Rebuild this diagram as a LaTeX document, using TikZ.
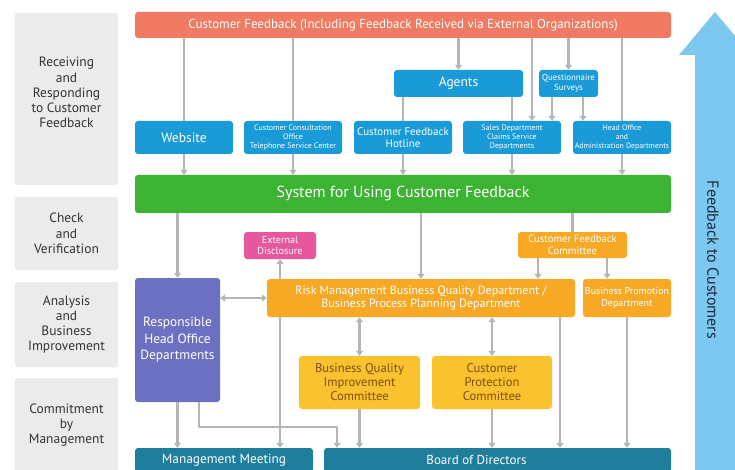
\documentclass[tikz,border=0pt]{standalone}
\usepackage{fontspec}
\setmainfont{PT Sans}
\usetikzlibrary{arrows.meta,positioning}
\definecolor{cfred}{HTML}{F07A62}
\definecolor{cfblue}{HTML}{1A9BD7}
\definecolor{cfgreen}{HTML}{3DB334}
\definecolor{cfpurple}{HTML}{6C70C0}
\definecolor{cfpink}{HTML}{E8579B}
\definecolor{cforange}{HTML}{F7A825}
\definecolor{cfyellow}{HTML}{F9C22E}
\definecolor{cfbrown}{HTML}{7E4E14}
\definecolor{cfteal}{HTML}{1F7E9B}
\definecolor{cfsky}{HTML}{7DC8F0}
\definecolor{cfpanel}{HTML}{EBEBEB}
\definecolor{cfgray}{HTML}{B5B5B5}
\definecolor{cftext}{HTML}{333333}
\definecolor{cfnavy}{HTML}{1C2B3C}
\tikzset{
  every picture/.append style={line cap=round,line join=round},
  cf box/.style={rounded corners=3pt,text=white,align=center,inner sep=0pt},
  cf panel/.style={fill=cfpanel,rounded corners=2pt,text=cftext,align=center,
    inner sep=0pt,minimum width=103pt,font=\fontsize{13.5}{15.3}\selectfont},
  cf link/.style={draw=cfgray,line width=2.4pt,line cap=butt},
  cf arrow/.style={cf link,-{Triangle[length=5pt,width=7pt]}},
  cf both/.style={cf link,{Triangle[length=5pt,width=7pt]}-{Triangle[length=5pt,width=7pt]}}
}
\newcommand{\fs}[2]{\fontsize{#1}{#2}\selectfont}

\begin{document}
\begin{tikzpicture}[x=1pt,y=-1pt]
  \useasboundingbox (0,0) rectangle (735,470);
  % stage panels
  \node[cf panel, minimum height=172pt] (stage1) at (66.5,99)
    {Receiving\\and\\Responding\\to Customer\\Feedback\\[-7pt]\strut};
  \node[cf panel, minimum height=73pt] (stage2) at (66.5,233.5)
    {Check\\and\\Verification};
  \node[cf panel, minimum height=85pt] (stage3) at (66.5,324.5)
    {Analysis\\and\\Business\\Improvement};
  \node[cf panel, minimum height=94pt] (stage4) at (66.5,425)
    {Commitment\\by\\Management};

  % feedback to customers
  \fill[cfsky] (695,470) -- (695,55) -- (679,55) -- (715,12) -- (751,55)
    -- (735,55) -- (735,470) -- cycle;
  \node[rotate=-90, text=cfnavy, font=\fs{16}{18}] (back) at (713,260)
    {Feedback to Customers};

  % receiving
  \node[cf box, fill=cfred, minimum width=536pt, minimum height=26pt, font=\fs{13}{15}]
    (red) at (403,25) {Customer Feedback (Including Feedback Received via External Organizations)};
  \node[cf box, fill=cfblue, minimum width=129pt, minimum height=27pt, font=\fs{13.5}{15}]
    (agents) at (458.5,83.5) {Agents};
  \node[cf box, fill=cfblue, minimum width=59pt, minimum height=27pt, font=\fs{8.8}{10}]
    (quest) at (568.5,83.5) {Questionnaire\\Surveys};
  \node[cf box, fill=cfblue, minimum width=98pt, minimum height=33pt, font=\fs{13.5}{15}]
    (web) at (184,137.5) {Website};
  \node[cf box, fill=cfblue, minimum width=98pt, minimum height=33pt, font=\fs{8}{9}]
    (consult) at (293,137.5) {Customer Consultation\\Office\\Telephone Service Center};
  \node[cf box, fill=cfblue, minimum width=98pt, minimum height=33pt, font=\fs{11}{11.5}]
    (hotline) at (403,137.5) {Customer Feedback\\Hotline};
  \node[cf box, fill=cfblue, minimum width=98pt, minimum height=33pt, font=\fs{8}{9}]
    (sales) at (512,137.5) {Sales Department\\Claims Service\\Departments};
  \node[cf box, fill=cfblue, minimum width=98pt, minimum height=33pt, font=\fs{7.8}{9}]
    (headoff) at (622,137.5) {Head Office\\and\\Administration Departments};
  \node[cf box, fill=cfgreen, minimum width=536pt, minimum height=38pt, font=\fs{16}{18}]
    (sys) at (403,194) {System for Using Customer Feedback};

  % check, analysis
  \node[cf box, fill=cfpurple, minimum width=85pt, minimum height=124pt, font=\fs{13.4}{16.5}]
    (resp) at (177.5,340) {Responsible\\Head Office\\Departments};
  \node[cf box, fill=cfpink, minimum width=72pt, minimum height=27pt, font=\fs{10.2}{10.5}]
    (ext) at (280,245.5) {External\\Disclosure};
  \node[cf box, fill=cforange, minimum width=109pt, minimum height=26pt, font=\fs{10.6}{11.5}]
    (cfc) at (572.5,245) {Customer Feedback\\Committee};
  \node[cf box, fill=cforange, minimum width=308pt, minimum height=38pt, font=\fs{12}{13}]
    (risk) at (421,298) {Risk Management Business Quality Department /\\Business Process Planning Department};
  \node[cf box, fill=cforange, minimum width=88pt, minimum height=38pt, font=\fs{10}{12.5}]
    (bp) at (627,298) {Business Promotion\\Department};
  \node[cf box, fill=cfyellow, text=cfbrown, minimum width=121pt, minimum height=53pt, font=\fs{12.6}{14}]
    (bqic) at (359.5,382.5) {Business Quality\\Improvement\\Committee};
  \node[cf box, fill=cfyellow, text=cfbrown, minimum width=120pt, minimum height=53pt, font=\fs{12.6}{14}]
    (cpc) at (492,382.5) {Customer\\Protection\\Committee};

  % management
  \node[cf box, fill=cfteal, minimum width=178pt, minimum height=24pt, font=\fs{13.3}{14}]
    (mgmt) at (224,460) {Management Meeting};
  \node[cf box, fill=cfteal, minimum width=347pt, minimum height=24pt] (board) at (497.5,460) {};
  \node[text=white, font=\fs{13}{14}] (boardtext) at ([xshift=-21pt]board.center) {Board of Directors};

  % column guides
  \coordinate (redsales) at (532,0);
  \coordinate (qsales) at (552,0);
  \coordinate (qhead) at (583,0);
  \coordinate (cfcrisk) at (538,0);
  \coordinate (cfcbp) at (607,0);
  \coordinate (riskboard) at (560,0);
  \coordinate (respbend) at (199,0);
  \coordinate (boardbend) at (337,0);

  % receiving links
  \draw[cf link] (red.south -| web) -- (web.north);
  \draw[cf link] (red.south -| consult) -- (consult.north);
  \draw[cf arrow] (red.south -| agents) -- (agents.north);
  \draw[cf link] (agents.south -| hotline) -- (hotline.north);
  \draw[cf link] (agents.south -| sales) -- (sales.north);
  \draw[cf arrow] (red.south -| redsales) -- (sales.north -| redsales);
  \draw[cf arrow] (red.south -| quest) -- (quest.north);
  \draw[cf arrow] (quest.south -| qsales) -- (sales.north -| qsales);
  \draw[cf arrow] (quest.south -| qhead) -- (headoff.north -| qhead);
  \draw[cf link] (red.south -| headoff) -- (headoff.north);
  \foreach \src in {web,consult,hotline,sales,headoff}
    \draw[cf arrow] (\src.south) -- (sys.north -| \src);

  % check and analysis links
  \draw[cf arrow] (sys.south -| resp) -- (resp.north);
  \draw[cf arrow] (sys.south -| risk) -- (risk.north);
  \draw[cf link] (sys.south -| cfc) -- (cfc.north);
  \draw[cf arrow] (cfc.south -| cfcrisk) -- (risk.north -| cfcrisk);
  \draw[cf arrow] (cfc.south -| cfcbp) -- (bp.north -| cfcbp);
  \draw[cf arrow] (risk.north -| ext) -- (ext.south);
  \draw[cf both] (resp.east |- risk) -- (risk.west);
  \draw[cf both] (risk.south -| bqic) -- (bqic.north);
  \draw[cf both] (risk.south -| cpc) -- (cpc.north);

  % commitment links
  \draw[cf arrow] (resp.south) -- (mgmt.north -| resp);
  \draw[cf arrow] (resp.south -| respbend) -- ++(0,25) -| (board.north -| boardbend);
  \draw[cf arrow] (risk.south -| ext) -- (mgmt.north -| ext);
  \draw[cf arrow] (bqic.south) -- (board.north -| bqic);
  \draw[cf arrow] (cpc.south) -- (board.north -| cpc);
  \draw[cf arrow] (risk.south -| riskboard) -- (board.north -| riskboard);
  \draw[cf arrow] (bp.south) -- (board.north -| bp);
\end{tikzpicture}
\end{document}
